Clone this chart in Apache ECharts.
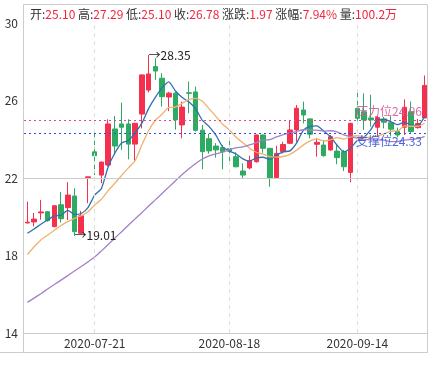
<!DOCTYPE html>
<html><head><meta charset="utf-8">
<script src="https://cdn.jsdelivr.net/npm/echarts@6/dist/echarts.min.js"></script>
<style>html,body{margin:0;padding:0;background:#fff}#c{width:434px;height:366px}</style>
</head><body><div id="c"></div>
<script>
const dates = ['2020-07-07','2020-07-08','2020-07-09','2020-07-10','2020-07-13','2020-07-14','2020-07-15','2020-07-16','2020-07-17','2020-07-20',
'2020-07-21','2020-07-22','2020-07-23','2020-07-24','2020-07-27','2020-07-28','2020-07-29','2020-07-30','2020-07-31',
'2020-08-03','2020-08-04','2020-08-05','2020-08-06','2020-08-07','2020-08-10','2020-08-11','2020-08-12','2020-08-13','2020-08-14','2020-08-17','2020-08-18','2020-08-19','2020-08-20','2020-08-21','2020-08-24','2020-08-25','2020-08-26','2020-08-27','2020-08-28','2020-08-31',
'2020-09-01','2020-09-02','2020-09-03','2020-09-04','2020-09-07','2020-09-08','2020-09-09','2020-09-10','2020-09-11','2020-09-14','2020-09-15','2020-09-16','2020-09-17','2020-09-18','2020-09-21','2020-09-22','2020-09-23','2020-09-24','2020-09-25','2020-09-28'];
const opens = [19.68,19.73,20.20,20.26,19.49,20.62,20.47,21.07,19.15,22.02,23.35,22.15,22.67,24.53,24.79,24.79,23.75,25.30,26.54,27.75,27.15,26.18,26.38,24.74,26.40,26.44,24.47,24.03,23.65,23.57,23.52,23.10,22.36,22.52,22.84,24.22,23.53,22.02,23.36,23.79,24.48,25.51,25.05,23.74,23.70,23.45,23.39,23.36,22.29,25.60,25.42,25.10,24.62,25.05,24.85,24.40,24.62,25.42,24.60,25.10];
const closes = [19.72,19.88,20.25,19.80,20.57,19.90,21.12,19.23,20.05,22.06,23.15,22.82,24.79,23.65,24.62,23.75,24.82,27.32,27.37,27.52,26.20,26.38,25.00,25.66,26.37,24.46,23.36,23.40,23.45,23.37,23.38,22.58,22.15,22.89,24.22,23.53,21.98,23.27,23.73,24.48,25.60,25.25,24.26,23.84,23.15,24.13,23.05,22.58,24.82,25.08,25.00,25.00,25.12,24.88,24.52,24.22,25.65,24.40,24.81,26.78];
const lows = [19.65,19.50,19.85,19.75,19.45,19.70,19.83,19.01,19.10,20.70,22.15,21.73,22.60,23.19,23.45,22.96,22.89,24.56,26.42,27.06,25.68,25.45,24.50,24.05,25.34,24.40,22.45,23.25,23.05,22.45,22.84,22.55,21.95,22.45,22.80,23.30,21.55,22.00,23.27,23.75,23.87,24.82,24.05,23.10,23.10,23.40,22.71,22.36,21.78,24.95,24.48,24.65,24.15,24.56,24.15,24.10,24.22,24.30,24.55,25.10];
const highs = [20.78,20.20,20.87,20.30,20.60,21.28,21.78,21.47,20.30,22.07,24.27,22.85,25.03,25.20,25.89,25.03,24.85,27.35,28.35,28.18,27.41,26.45,26.45,25.94,26.98,26.72,24.74,24.28,23.80,23.70,23.96,23.33,22.76,23.15,24.25,24.25,23.55,23.67,23.87,24.99,25.77,25.94,25.08,24.05,23.96,24.22,23.70,23.45,24.85,26.58,26.37,26.30,25.20,25.15,25.20,24.60,26.06,25.95,25.05,27.29];
const ma5 = [19.15,19.37,19.61,19.83,20.04,20.08,20.33,20.12,20.17,20.47,21.12,21.46,22.57,23.29,23.81,23.93,24.33,24.83,25.58,26.16,26.65,26.96,26.49,26.15,25.92,25.57,24.97,24.65,24.21,23.61,23.39,23.24,22.99,22.87,23.04,23.07,22.95,23.18,23.35,23.40,23.81,24.47,24.66,24.69,24.42,24.13,23.69,23.35,23.55,23.93,24.11,24.50,25.00,25.02,24.90,24.75,24.88,24.73,24.72,25.17];
const ma10 = [18.05,18.45,18.80,19.05,19.30,19.55,19.75,19.92,20.05,20.26,20.60,20.90,21.35,21.73,22.14,22.52,22.89,23.70,24.44,24.98,25.29,25.64,25.66,25.86,26.04,26.11,25.96,25.57,25.18,24.77,24.48,24.10,23.82,23.54,23.33,23.23,23.10,23.08,23.11,23.22,23.44,23.71,23.92,24.02,23.91,23.97,24.08,24.01,24.12,24.18,24.12,24.09,24.18,24.28,24.42,24.43,24.69,24.67,24.67,24.84];
const ma30 = [15.58,15.80,16.03,16.27,16.50,16.73,16.96,17.20,17.43,17.67,17.92,18.24,18.57,18.90,19.23,19.56,19.89,20.21,20.55,20.87,21.20,21.53,21.86,22.18,22.48,22.75,22.98,23.14,23.25,23.33,23.46,23.55,23.61,23.71,23.83,23.96,23.98,24.12,24.24,24.32,24.40,24.49,24.47,24.47,24.42,24.44,24.38,24.22,24.14,24.05,24.01,23.97,23.97,23.95,23.88,23.88,23.95,23.99,24.03,24.15];
const yMin = 14, yMax = 30, yStep = 4;
const labelDates = ['2020-07-21','2020-08-18','2020-09-14'];
const pressure = 24.96, support = 24.33;
const refLevel = 22;
const quoteLabels = ['开','高','低','收','涨跌','涨幅','量'];
const quoteValues = ['25.10','27.29','25.10','26.78','1.97','7.94%','100.2万'];

const FONT = '"Noto Sans CJK SC","Noto Sans",sans-serif';
const UP = '#f5304f', DOWN = '#2eab62';
const chart = echarts.init(document.getElementById('c'), null, {renderer:'canvas'});
const headerText = quoteLabels.map((l,i)=>'{l|'+l+':}{v|'+quoteValues[i]+'}').join(' ');
const option = {
  animation:false,
  textStyle:{fontFamily:FONT},
  grid:{left:24,right:6,top:23,bottom:33},
  xAxis:{type:'category',data:dates,boundaryGap:true,
    axisLine:{show:true,lineStyle:{color:'#ccc'}},axisTick:{show:false},
    axisLabel:{interval:(i,v)=>labelDates.includes(v),color:'#333',fontSize:12,margin:4,fontFamily:FONT},
    splitLine:{show:false}},
  yAxis:{type:'value',min:yMin,max:yMax,interval:yStep,scale:true,
    axisLine:{show:false},axisTick:{show:false},splitLine:{show:false},
    axisLabel:{color:'#333',fontSize:12,margin:6,fontFamily:FONT}},
  graphic:[
    {type:'rect',shape:{x:23.5,y:4.5,width:404,height:348},style:{fill:'none',stroke:'#ccc',lineWidth:1},silent:true,z:0},
    {type:'line',shape:{x1:0,y1:352.5,x2:23.5,y2:352.5},style:{stroke:'#ccc',lineWidth:1},silent:true},
    {type:'text',left:30,top:8,style:{text:headerText,font:'12px '+FONT,
      rich:{l:{fill:'#333',fontSize:12,fontFamily:FONT},v:{fill:'#f2253f',fontSize:12,fontFamily:FONT}}}}
  ],
  series:[
    {type:'candlestick',name:'K',barWidth:5,
     data:opens.map((o,i)=>[o,closes[i],lows[i],highs[i]]),
     itemStyle:{color:UP,color0:DOWN,borderColor:UP,borderColor0:DOWN,borderWidth:1},
     markPoint:{symbol:'circle',symbolSize:0,silent:true,
       label:{show:true,position:'right',distance:0,color:'#222',fontSize:12,fontFamily:FONT,
         formatter:p=>'→'+Number(p.value).toFixed(2)},
       data:[{type:'max',valueDim:'highest'},{type:'min',valueDim:'lowest'}]},
     markLine:{symbol:['none','none'],silent:true,animation:false,
       data:[
         {yAxis:refLevel,lineStyle:{color:'#ccc',type:'solid',width:1},label:{show:false}},
         ...labelDates.map(d=>({xAxis:d,lineStyle:{color:'#ddd',type:[4,4],width:1},label:{show:false}})),
         {yAxis:pressure,lineStyle:{color:'#e0489a',type:[2,3],width:1},
          label:{show:true,position:'insideEndTop',distance:[6,3],formatter:'压力位'+pressure.toFixed(2),color:'rgba(214,90,160,0.9)',fontSize:12,fontFamily:FONT}},
         {yAxis:support,lineStyle:{color:'#2a4fe0',type:[2,3],width:1},
          label:{show:true,position:'insideEndBottom',distance:[6,3],formatter:'支撑位'+support.toFixed(2),color:'rgba(55,85,215,0.9)',fontSize:12,fontFamily:FONT}}
       ]}
    },
    {type:'line',name:'MA5',data:ma5,symbol:'none',smooth:0.2,lineStyle:{color:'#2f6fb0',width:1.3},z:3},
    {type:'line',name:'MA10',data:ma10,symbol:'none',smooth:0.2,lineStyle:{color:'#eeb26c',width:1.3},z:3},
    {type:'line',name:'MA30',data:ma30,symbol:'none',smooth:0.2,lineStyle:{color:'#a67fc9',width:1.3},z:3}
  ]
};
chart.setOption(option);
</script></body></html>
